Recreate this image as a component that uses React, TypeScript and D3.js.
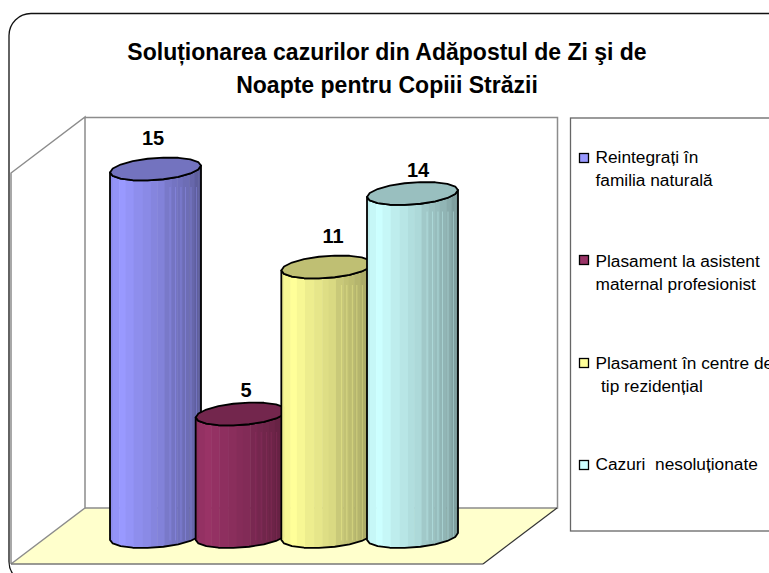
import React from "react";
import * as d3 from "d3";

const categories = ["Reintegrați în familia naturală", "Plasament la asistent maternal profesionist", "Plasament în centre de tip rezidențial", "Cazuri nesoluționate"];
const values = [15, 5, 11, 14];
const colors = ["#9999FF", "#993366", "#FFFF99", "#CCFFFF"];
const titleLines = ["Soluționarea cazurilor din Adăpostul de Zi şi de", "Noapte pentru Copiii Străzii"];
const legendLines = [["Reintegrați în", "familia naturală"], ["Plasament la asistent", "maternal profesionist"], ["Plasament în centre de", "tip rezidențial"], ["Cazuri  nesoluționate"]];

// shading profile across a cylinder: [start fraction, brightness]
const shadeStops: [number, number][] = [
  [0, 0.93], [0.03, 0.97], [0.1, 1], [0.17, 0.97], [0.26, 0.93], [0.36, 0.9], [0.45, 0.87], [0.52, 0.85],
  [0.6, 0.79], [0.68, 0.76], [0.74, 0.74], [0.8, 0.71], [0.87, 0.67], [0.93, 0.62], [0.97, 0.6],
];
const seamFractions = [0.66, 0.72, 0.78, 0.83, 0.89, 0.95];
const labelX = [153, 246, 333, 418];
const labelBaseline = [145, 397, 243, 177];

const W = 769, H = 573;
const y = d3.scaleLinear().domain([0, 15]).range([536.5, 169]);
const x = d3.scaleLinear().domain([0, 3]).range([110, 367]);
const CW = 91, RY = 11, SKEW = 3.4, FACETS = 18;

function shade(c: string, k: number) {
  const q = d3.rgb(c);
  return d3.rgb(q.r * k, q.g * k, q.b * k).formatHex();
}

function rim(cx: number, cy: number, from: number, to: number) {
  const pts: [number, number][] = [];
  const n = Math.round((FACETS * Math.abs(to - from)) / (2 * Math.PI));
  for (let i = 0; i <= n; i++) {
    const t = from + ((to - from) * i) / n;
    pts.push([cx + (CW / 2) * Math.cos(t), cy - SKEW * Math.cos(t) + RY * Math.sin(t)]);
  }
  return pts;
}

function Cylinder({ i }: { i: number }) {
  const x0 = x(i), cx = x0 + CW / 2, top = y(values[i]), base = y(0), c = colors[i];
  const bottomArc = rim(cx, base, 0, Math.PI);
  const topArc = rim(cx, top, Math.PI, 0);
  const line = d3.line();
  const bodyPath = line([...bottomArc, ...topArc]) + "Z";
  const topPath = line(rim(cx, top, 0, 2 * Math.PI)) + "Z";
  const id = `body-${i}`;
  return (
    <g>
      <clipPath id={id}><path d={bodyPath} /></clipPath>
      <g clipPath={`url(#${id})`}>
        {shadeStops.map(([f, k], j) => {
          const next = j + 1 < shadeStops.length ? shadeStops[j + 1][0] : 1;
          return <rect key={j} x={x0 + f * CW} y={top - 20} width={(next - f) * CW + 0.5} height={base - top + 50} fill={shade(c, k)} />;
        })}
        {seamFractions.map((f, j) => (
          <line key={j} x1={x0 + f * CW} x2={x0 + f * CW} y1={top + 18} y2={base + 4} stroke={shade(c, 0.98)} strokeOpacity={0.4} strokeWidth={1} />
        ))}
      </g>
      <path d={bodyPath} fill="none" stroke="#000" strokeWidth={1.8} strokeLinejoin="round" />
      <path d={topPath} fill={shade(c, 0.75)} stroke="#000" strokeWidth={1.8} strokeLinejoin="round" />
    </g>
  );
}

export default function App() {
  const font = "'Liberation Sans', Arial, sans-serif";
  const legendY = [163, 265, 368, 470];
  return (
    <svg width={W} height={H} style={{ position: "fixed", left: 0, top: 0, background: "#fff" }} fontFamily={font}>
      <rect x={9} y={13.5} width={820} height={570} rx={22} fill="#fff" stroke="#111" strokeWidth={1.3} />
      <polygon points="11,564 85,508 557,508 483,564" fill="#FFFFCC" />
      <path d="M11,564V173L85,117V508L11,564" fill="none" stroke="#8c8c8c" strokeWidth={1.5} />
      <path d="M85,117.500H557.500V508H85" fill="none" stroke="#8c8c8c" strokeWidth={1.5} />
      <path d="M11,564H483" fill="none" stroke="#777" strokeWidth={1.4} />
      <path d="M483,564L557,508" fill="none" stroke="#333" strokeWidth={1.2} />

      {values.map((_, i) => <Cylinder key={i} i={i} />)}

      {values.map((v, i) => (
        <text key={i} x={labelX[i]} y={labelBaseline[i]} textAnchor="middle" fontWeight="bold" fontSize={20} fill="#000">{v}</text>
      ))}

      {titleLines.map((t, i) => (
        <text key={i} x={387} y={60 + i * 33} textAnchor="middle" fontWeight="bold" fontSize={23} fill="#000">{t}</text>
      ))}

      <rect x={570.500} y={118} width={260} height={413} fill="#fff" stroke="#666" strokeWidth={1.3} />
      {categories.map((name, i) => (
        <g key={name}>
          <rect x={579.500} y={legendY[i] - 9.500} width={9} height={9} fill={colors[i]} stroke="#000" strokeWidth={1.3} />
          {legendLines[i].map((l, j) => (
            <text key={j} x={i === 2 && j === 1 ? 601 : 595.500} y={legendY[i] + (i === 2 ? 1 : i === 1 ? 2 : 0) + j * 23} fontSize={17.300} fill="#000" xmlSpace="preserve" style={{ whiteSpace: "pre" }}>{l}</text>
          ))}
        </g>
      ))}
    </svg>
  );
}
